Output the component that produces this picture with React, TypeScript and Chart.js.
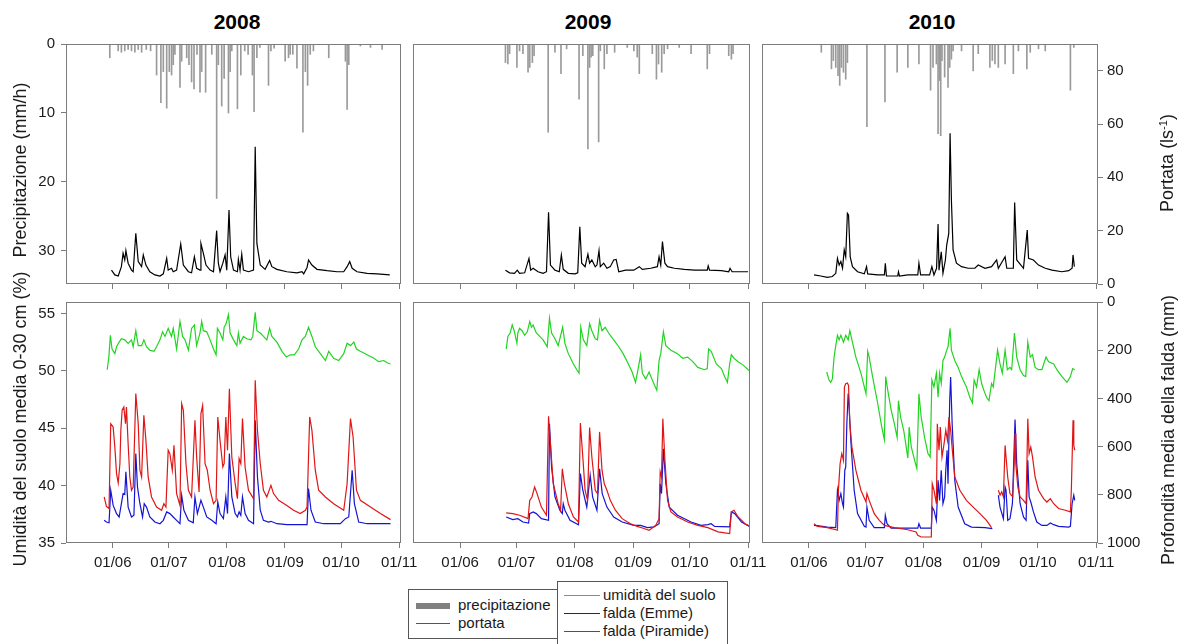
import React, { useEffect, useRef } from 'react';
import { Chart, registerables } from 'chart.js';

Chart.register(...registerables);

type Pt = [number, number | null];

// ---------- axes ----------
// x values are days counted from 1 June of each year
const X_MIN = -25;
const X_MAX = 154;
const TICK_DAYS = [0, 30, 61, 92, 122, 153];
const TICK_LABELS = ['01/06', '01/07', '01/08', '01/09', '01/10', '01/11'];
const PRECIP_TICKS = [0, 10, 20, 30];
const PRECIP_MAX = 34.8;
const PORTATA_TICKS = [0, 20, 40, 60, 80];
const PORTATA_MAX = 90;
const SOIL_TICKS = [35, 40, 45, 50, 55];
const SOIL_MIN = 35;
const SOIL_MAX = 56;
const DEPTH_TICKS = [0, 200, 400, 600, 800, 1000];
const DEPTH_MAX = 1000;
const YEARS = ['2008', '2009', '2010'];

// ---------- 2008 ----------
const PRECIP_2008: Pt[] = [
  [-1.6, 2.0], [2.9, 1.0], [4.6, 1.2], [6.4, 1.0], [8.2, 0.8], [10.0, 1.0], [11.8, 1.2], [13.6, 0.8], [15.4, 1.2],
  [17.9, 0.8], [20.2, 1.0], [23.4, 4.5], [25.7, 8.5], [27.0, 4.0], [28.8, 9.3], [30.2, 4.0], [31.4, 4.5], [32.3, 3.0],
  [33.2, 1.5], [35.9, 6.3], [36.8, 2.5], [39.5, 2.0], [40.7, 3.0], [42.1, 5.5], [43.4, 6.5], [45.0, 1.5], [46.6, 7.0],
  [47.5, 4.0], [49.6, 7.0], [52.9, 1.5], [55.5, 22.4], [56.4, 3.0], [58.2, 9.0], [59.5, 5.0], [61.8, 10.0], [62.7, 4.0],
  [63.6, 1.0], [66.6, 9.4], [68.4, 4.5], [70.5, 1.0], [72.3, 1.5], [74.6, 4.5], [75.5, 9.8], [77.0, 2.0], [78.6, 0.5],
  [83.2, 6.0], [84.5, 1.0], [86.2, 0.6], [92.1, 2.5], [93.9, 2.0], [94.8, 1.5], [96.2, 1.5], [98.4, 3.5], [101.6, 12.8],
  [102.9, 4.0], [104.1, 6.0], [105.5, 1.5], [107.2, 1.0], [115.4, 2.0], [124.3, 2.5], [125.2, 9.5], [126.1, 3.0],
  [132.3, 0.3], [137.7, 0.5], [143.9, 0.8],
];
const PORTATA_2008: Pt[] = [
  [-0.7, 5.2], [1.1, 3.4], [2.9, 3.0], [4.6, 6.5], [5.5, 11.5], [6.4, 9.0], [7.0, 12.5], [8.2, 7.8], [10.0, 5.2],
  [10.9, 4.6], [12.3, 19.0], [13.6, 8.4], [15.4, 6.5], [16.3, 10.9], [17.7, 7.1], [19.8, 4.6], [22.5, 3.4], [25.2, 3.0],
  [27.0, 3.8], [28.8, 9.6], [29.6, 5.2], [31.4, 5.9], [32.3, 4.6], [34.1, 5.2], [36.3, 15.0], [37.7, 7.1], [40.4, 4.6],
  [42.1, 4.2], [43.6, 10.2], [44.8, 5.9], [46.6, 5.2], [47.1, 15.2], [48.4, 11.5], [49.8, 7.1], [52.0, 5.2], [53.8, 4.6],
  [55.5, 20.0], [56.4, 7.8], [57.3, 4.6], [58.8, 7.8], [60.0, 10.9], [60.9, 5.2], [62.1, 27.7], [63.0, 10.2], [64.5, 5.2],
  [66.6, 4.6], [67.1, 9.2], [68.0, 5.2], [68.9, 11.2], [69.8, 5.2], [72.5, 4.6], [75.2, 5.2], [76.1, 51.5], [77.0, 15.2],
  [78.8, 7.1], [81.4, 5.5], [83.8, 8.8], [85.0, 6.5], [87.7, 5.5], [93.0, 4.6], [98.4, 4.2], [101.1, 4.6], [102.0, 3.8],
  [103.8, 6.2], [104.6, 9.0], [106.4, 7.1], [109.1, 5.5], [114.5, 5.0], [119.8, 4.6], [123.4, 4.6], [125.2, 6.5],
  [126.6, 8.4], [127.9, 5.9], [130.5, 4.6], [135.9, 4.0], [141.3, 3.8], [148.0, 3.4],
];
const SOIL_2008: Pt[] = [
  [-3.0, 50.1], [-2.1, 51.2], [-1.3, 53.1], [-0.4, 51.9], [1.1, 51.5], [2.0, 52.1], [3.4, 52.5], [4.6, 52.8], [6.4, 52.7],
  [8.2, 52.4], [10.0, 52.7], [10.9, 52.1], [12.3, 53.5], [13.6, 52.2], [15.4, 52.2], [16.6, 52.7], [18.0, 52.1],
  [19.8, 51.8], [22.0, 51.7], [23.4, 52.1], [25.2, 52.7], [26.6, 53.4], [27.9, 53.0], [29.6, 53.7], [31.4, 53.0],
  [32.3, 53.7], [34.1, 51.9], [35.9, 54.3], [37.3, 53.0], [38.6, 52.7], [40.4, 51.8], [42.1, 53.7], [43.6, 54.0],
  [44.8, 52.2], [46.6, 53.3], [47.5, 54.3], [48.4, 53.5], [50.2, 53.4], [52.0, 52.7], [53.8, 51.9], [55.2, 51.4],
  [55.9, 53.7], [57.3, 53.3], [58.8, 52.7], [59.5, 53.8], [60.5, 54.1], [61.8, 54.9], [62.7, 53.3], [64.5, 52.7],
  [66.3, 52.2], [67.1, 53.3], [68.0, 52.4], [69.8, 53.0], [71.6, 52.8], [73.8, 52.7], [74.8, 53.0], [76.1, 55.1],
  [77.0, 53.5], [78.8, 53.3], [80.5, 53.0], [82.3, 52.7], [83.8, 53.7], [85.0, 53.0], [87.7, 52.5], [90.4, 51.7],
  [92.7, 51.2], [94.8, 51.4], [97.0, 51.4], [99.3, 51.9], [101.1, 52.7], [102.9, 53.0], [104.6, 53.8], [106.4, 53.0],
  [108.2, 52.1], [110.9, 51.5], [113.6, 50.9], [115.4, 51.7], [118.0, 51.1], [120.7, 50.9], [123.4, 51.5], [125.2, 52.4],
  [127.0, 52.2], [128.8, 52.5], [130.2, 51.9], [132.3, 51.7], [135.9, 51.4], [139.5, 51.1], [142.1, 50.8], [144.8, 50.9],
  [146.6, 50.7], [148.4, 50.6],
];
const EMME_2008: Pt[] = [
  [-4.6, 906], [-3.4, 913], [-2.0, 916], [-1.1, 781], [0.2, 844], [2.0, 878], [3.4, 892], [4.6, 837], [5.5, 795],
  [6.4, 798], [7.0, 705], [8.2, 851], [10.0, 892], [11.3, 885], [12.3, 629], [13.2, 768], [14.5, 837], [15.9, 892],
  [16.8, 837], [18.0, 851], [19.8, 892], [22.5, 913], [25.2, 920], [27.0, 906], [28.8, 871], [30.5, 878], [32.3, 892],
  [34.1, 906], [35.9, 920], [36.8, 802], [38.0, 864], [40.4, 906], [43.0, 916], [43.9, 809], [45.2, 878], [47.1, 823],
  [48.4, 851], [50.2, 892], [52.9, 906], [55.2, 920], [56.1, 830], [57.3, 878], [59.1, 899], [60.4, 809], [61.3, 878],
  [62.3, 629], [63.6, 809], [65.4, 878], [66.6, 892], [67.5, 871], [68.4, 885], [69.3, 809], [70.7, 878], [72.5, 906],
  [75.2, 920], [76.1, 491], [77.3, 726], [78.8, 864], [80.5, 906], [83.2, 913], [84.5, 910], [87.7, 920], [93.0, 924],
  [103.8, 924], [104.6, 774], [105.9, 864], [108.2, 913], [112.7, 920], [121.6, 920], [124.3, 899], [126.1, 892],
  [127.9, 698], [129.1, 837], [131.4, 913], [135.9, 920], [148.4, 920],
];
const PIRAMIDE_2008: Pt[] = [
  [-4.6, 809], [-3.4, 848], [-2.0, 857], [-1.1, 505], [0.2, 519], [1.1, 602], [2.0, 712], [2.9, 751], [3.8, 671],
  [4.3, 532], [5.0, 449], [5.9, 436], [6.8, 505], [7.3, 436], [8.2, 588], [9.1, 726], [10.0, 781], [10.9, 768],
  [12.3, 380], [13.6, 505], [14.5, 698], [15.4, 726], [16.6, 470], [17.7, 574], [18.9, 726], [20.7, 809], [23.4, 851],
  [26.1, 864], [27.3, 837], [28.4, 851], [29.6, 615], [30.5, 629], [31.8, 698], [32.7, 595], [34.1, 795], [35.9, 844],
  [36.8, 422], [37.7, 449], [39.1, 671], [40.4, 781], [42.1, 809], [43.9, 491], [44.8, 643], [46.1, 788], [47.1, 463],
  [48.0, 429], [49.3, 671], [50.5, 698], [52.0, 781], [53.8, 837], [55.2, 823], [56.1, 477], [57.3, 574], [58.8, 685],
  [59.5, 671], [60.4, 477], [61.3, 615], [62.3, 360], [63.6, 643], [65.4, 754], [66.6, 816], [67.5, 650], [68.4, 671],
  [69.3, 484], [70.7, 685], [72.5, 781], [75.2, 816], [76.1, 325], [77.3, 532], [78.8, 671], [80.5, 781], [82.3, 809],
  [84.5, 761], [85.9, 795], [88.6, 823], [93.0, 844], [96.6, 864], [100.2, 878], [102.9, 864], [103.8, 851],
  [105.2, 477], [106.4, 532], [108.2, 698], [110.0, 781], [113.6, 809], [118.0, 837], [123.4, 864], [125.2, 754],
  [127.0, 484], [128.4, 560], [130.2, 781], [132.3, 823], [137.7, 851], [143.0, 878], [148.4, 903],
];

// ---------- 2009 ----------
const PRECIP_2009: Pt[] = [
  [24.1, 2.7], [25.4, 2.9], [26.3, 1.4], [30.2, 3.4], [31.6, 1.0], [33.4, 1.4], [36.1, 4.1], [37.0, 3.4], [38.4, 2.7],
  [39.3, 1.7], [46.8, 12.8], [50.4, 1.2], [53.6, 4.3], [56.6, 0.7], [63.2, 8.0], [65.2, 1.7], [67.9, 15.2], [68.8, 3.4],
  [69.6, 1.9], [70.5, 1.7], [73.6, 14.2], [74.5, 1.0], [76.6, 3.6], [78.0, 1.4], [82.1, 1.2], [88.8, 0.5], [92.3, 1.0],
  [94.1, 1.9], [95.2, 4.3], [102.1, 1.4], [104.3, 5.1], [105.4, 2.9], [107.1, 4.1], [108.4, 1.4], [110.2, 0.7],
  [116.4, 0.5], [122.7, 1.4], [131.3, 3.6], [132.5, 1.4], [142.7, 1.7], [144.1, 2.2], [145.0, 1.4],
];
const PORTATA_2009: Pt[] = [
  [24.1, 5.2], [26.3, 4.2], [28.9, 4.0], [30.4, 5.2], [31.6, 4.0], [34.3, 4.2], [36.6, 9.6], [37.5, 5.2], [38.8, 5.9],
  [41.4, 4.6], [44.1, 4.0], [45.9, 4.6], [47.0, 26.9], [48.0, 7.1], [50.4, 5.2], [52.7, 4.6], [53.8, 10.9], [54.8, 5.5],
  [57.5, 4.0], [61.1, 3.8], [62.5, 4.2], [63.6, 21.5], [64.6, 7.8], [66.4, 6.5], [67.9, 11.2], [68.8, 7.8], [70.0, 9.0],
  [71.8, 6.5], [72.7, 7.1], [73.8, 12.5], [74.5, 6.5], [76.3, 7.8], [78.0, 5.9], [79.8, 6.5], [81.6, 9.0], [82.9, 9.2],
  [84.3, 4.6], [87.9, 5.2], [92.3, 5.2], [95.2, 6.5], [96.8, 5.5], [101.3, 5.9], [104.8, 6.5], [105.7, 10.2],
  [106.6, 7.1], [107.5, 15.9], [108.8, 7.8], [110.2, 6.5], [113.8, 5.9], [119.1, 5.5], [124.5, 5.2], [131.3, 5.2],
  [131.8, 6.8], [132.5, 5.2], [138.8, 5.0], [142.7, 4.6], [143.4, 5.9], [144.5, 4.6], [153.0, 4.6],
];
const SOIL_2009: Pt[] = [
  [24.5, 51.9], [25.4, 53.0], [26.6, 53.3], [27.7, 54.0], [28.9, 53.4], [30.2, 52.4], [30.7, 53.3], [31.6, 53.7],
  [32.9, 53.5], [34.3, 53.1], [35.7, 53.4], [37.0, 54.3], [37.9, 53.8], [38.8, 54.0], [40.5, 53.3], [42.3, 53.0],
  [44.1, 52.7], [46.3, 52.1], [47.5, 54.6], [48.6, 53.3], [50.4, 52.8], [52.1, 52.2], [54.5, 53.8], [55.7, 52.4],
  [57.5, 51.5], [60.2, 50.6], [62.0, 50.1], [63.2, 49.8], [64.1, 53.8], [65.5, 52.7], [67.3, 52.2], [68.8, 54.1],
  [70.0, 53.5], [71.8, 52.8], [73.0, 52.7], [74.1, 54.4], [75.4, 53.5], [77.1, 53.8], [78.9, 53.3], [81.6, 52.7],
  [84.3, 52.1], [86.6, 51.5], [88.8, 50.8], [91.4, 49.9], [93.2, 49.0], [94.5, 50.1], [95.9, 51.4], [96.8, 49.8],
  [98.6, 49.3], [100.4, 49.9], [102.1, 49.2], [104.5, 48.3], [105.7, 50.9], [106.6, 51.5], [108.0, 53.4], [109.3, 52.2],
  [112.0, 51.8], [115.5, 51.5], [118.2, 51.1], [120.9, 51.2], [123.6, 50.8], [126.3, 50.3], [129.8, 50.1], [131.3, 50.2],
  [132.0, 51.9], [133.4, 51.7], [136.1, 50.6], [138.8, 50.2], [140.5, 49.5], [142.0, 49.0], [143.2, 50.6], [144.1, 51.4],
  [145.5, 51.1], [147.7, 50.8], [150.4, 50.5], [153.0, 50.1], [154.8, 49.9],
];
const EMME_2009: Pt[] = [
  [24.5, 892], [28.0, 903], [30.7, 899], [33.4, 913], [36.4, 917], [37.0, 878], [38.8, 871], [40.5, 878], [43.2, 899],
  [47.0, 906], [47.5, 505], [48.6, 685], [50.4, 809], [53.0, 864], [54.3, 878], [54.8, 837], [55.7, 864], [58.4, 906],
  [62.9, 924], [63.9, 712], [65.2, 781], [67.3, 851], [69.1, 719], [70.4, 809], [72.7, 864], [74.1, 692], [75.5, 795],
  [78.0, 851], [81.6, 892], [86.1, 913], [92.3, 927], [95.9, 927], [99.5, 936], [103.0, 933], [105.7, 920], [106.3, 754],
  [107.0, 795], [108.0, 609], [109.3, 754], [111.1, 851], [115.5, 885], [122.7, 913], [128.0, 927], [131.6, 924],
  [133.4, 920], [135.2, 931], [143.2, 933], [144.1, 871], [145.9, 878], [149.5, 913], [154.8, 936],
];
const PIRAMIDE_2009: Pt[] = [
  [24.5, 875], [28.0, 878], [31.6, 885], [36.1, 899], [37.0, 823], [38.2, 809], [39.6, 768], [40.9, 795], [43.2, 851],
  [45.9, 885], [47.0, 474], [48.0, 588], [49.5, 754], [52.1, 837], [53.4, 864], [54.3, 692], [55.4, 754], [57.5, 837],
  [60.2, 892], [62.9, 913], [63.9, 502], [65.2, 643], [66.4, 781], [67.7, 823], [68.8, 521], [70.0, 643], [71.8, 781],
  [73.0, 795], [74.1, 539], [75.4, 698], [76.6, 754], [78.0, 781], [79.8, 823], [82.5, 864], [86.1, 899], [90.5, 920],
  [94.1, 931], [97.7, 940], [100.4, 947], [103.9, 927], [105.7, 899], [106.3, 705], [107.0, 726], [107.7, 484],
  [108.8, 657], [110.2, 823], [112.0, 871], [115.5, 892], [120.9, 913], [126.3, 927], [131.6, 936], [137.0, 954],
  [143.2, 961], [144.1, 871], [145.5, 864], [147.7, 892], [151.3, 920], [154.8, 933],
];

// ---------- 2010 ----------
const PRECIP_2010: Pt[] = [
  [6.6, 1.2], [12.0, 3.6], [13.0, 2.4], [14.3, 3.4], [15.5, 4.6], [16.4, 6.0], [17.3, 3.4], [18.4, 4.1], [19.6, 5.1],
  [20.5, 2.7], [30.9, 12.0], [40.5, 8.4], [47.0, 4.1], [52.7, 3.4], [58.6, 2.9], [64.8, 6.7], [66.1, 3.4], [67.9, 2.9],
  [68.8, 13.0], [69.6, 5.3], [70.2, 13.3], [70.9, 2.4], [72.3, 4.8], [74.1, 6.3], [75.0, 3.4], [75.9, 2.2], [76.8, 1.0],
  [81.3, 1.0], [87.5, 3.9], [90.2, 1.4], [96.4, 3.4], [97.7, 2.4], [99.1, 2.9], [100.9, 3.4], [104.5, 2.9], [108.9, 4.3],
  [111.6, 1.0], [116.1, 3.6], [117.9, 1.2], [122.3, 0.7], [125.9, 1.0], [139.3, 6.7], [141.1, 0.5],
];
const PORTATA_2010: Pt[] = [
  [2.7, 3.4], [6.3, 3.0], [9.8, 2.5], [12.5, 2.8], [14.3, 4.0], [15.2, 9.6], [16.1, 7.1], [17.0, 8.4], [17.9, 5.9],
  [18.8, 12.8], [19.6, 10.2], [20.5, 26.5], [21.1, 25.9], [22.0, 10.2], [23.2, 6.5], [25.9, 4.6], [29.5, 3.8],
  [30.7, 6.5], [31.3, 3.8], [36.6, 3.4], [40.2, 3.4], [40.7, 7.8], [41.3, 3.0], [47.3, 3.0], [47.7, 4.6], [48.2, 3.0],
  [52.7, 3.4], [58.0, 3.4], [58.6, 7.8], [59.5, 3.4], [64.3, 3.4], [65.5, 6.5], [66.6, 3.4], [68.0, 5.9], [68.8, 22.5],
  [69.3, 5.2], [70.5, 12.1], [71.4, 4.0], [72.7, 9.0], [73.4, 14.6], [74.5, 19.0], [75.2, 56.5], [75.9, 31.5],
  [76.8, 12.8], [78.6, 7.8], [81.3, 6.5], [84.8, 5.9], [88.4, 5.9], [90.2, 7.1], [93.8, 5.9], [97.3, 6.5], [100.0, 9.0],
  [100.9, 5.9], [104.5, 10.2], [105.4, 5.9], [108.9, 5.9], [109.6, 30.6], [110.7, 9.0], [114.3, 5.9], [116.3, 20.2],
  [117.0, 9.6], [119.6, 9.0], [122.3, 7.1], [125.9, 5.9], [129.5, 5.2], [134.8, 4.6], [138.4, 5.0], [140.2, 5.9],
  [140.7, 10.9], [141.4, 6.5],
];
const SOIL_2010: Pt[] = [
  [9.5, 49.9], [10.7, 49.2], [11.6, 49.0], [12.5, 49.3], [13.4, 51.2], [14.3, 52.2], [15.2, 53.1], [16.1, 52.7],
  [17.0, 53.1], [18.4, 52.5], [19.6, 53.1], [20.9, 52.7], [21.8, 53.5], [22.9, 52.7], [25.0, 51.2], [27.7, 49.8],
  [30.4, 48.0], [31.3, 51.7], [32.1, 51.2], [33.9, 49.5], [36.6, 47.2], [38.8, 45.1], [40.2, 44.0], [40.9, 49.5],
  [42.0, 48.3], [43.8, 46.6], [45.5, 45.4], [47.0, 44.2], [47.7, 47.4], [48.8, 46.0], [50.5, 44.8], [51.8, 43.4],
  [52.7, 42.4], [53.4, 45.1], [54.5, 43.4], [56.3, 42.2], [57.5, 41.5], [58.6, 48.0], [59.8, 46.0], [61.6, 44.2],
  [63.4, 42.8], [64.6, 42.5], [65.5, 49.2], [66.6, 48.6], [67.9, 49.8], [68.8, 47.7], [69.6, 49.8], [70.5, 48.9],
  [71.4, 50.9], [72.3, 51.2], [73.2, 51.7], [74.1, 52.1], [75.2, 53.7], [75.9, 51.8], [77.7, 50.9], [79.5, 50.3],
  [81.3, 49.5], [83.9, 48.6], [85.7, 47.7], [87.1, 47.2], [88.0, 49.2], [89.3, 48.6], [90.7, 50.1], [92.0, 48.9],
  [93.2, 48.3], [94.6, 47.7], [95.9, 47.4], [97.3, 48.9], [98.2, 48.6], [100.5, 51.8], [101.8, 50.6], [103.0, 49.8],
  [104.5, 51.8], [105.7, 50.1], [107.1, 50.3], [108.0, 50.1], [109.5, 53.3], [110.7, 51.2], [112.5, 50.1], [114.3, 49.6],
  [115.5, 49.5], [116.6, 52.5], [117.9, 51.2], [119.1, 51.4], [120.5, 50.3], [122.3, 50.1], [124.1, 50.1], [126.3, 51.2],
  [127.7, 50.8], [130.4, 50.6], [132.1, 50.1], [134.8, 49.5], [137.5, 49.0], [139.3, 49.5], [140.5, 50.2], [141.6, 50.1],
];
const EMME_2010: Pt[] = [
  [2.7, 927], [4.5, 928], [9.8, 934], [14.3, 936], [15.2, 781], [16.1, 823], [17.0, 795], [17.9, 837], [18.4, 851],
  [19.1, 698], [19.6, 685], [20.2, 505], [20.9, 380], [21.4, 436], [22.3, 574], [24.1, 781], [25.9, 878], [29.5, 931],
  [30.4, 934], [30.9, 851], [32.1, 906], [34.8, 936], [40.2, 936], [40.7, 885], [41.6, 920], [43.8, 938], [58.0, 938],
  [58.6, 920], [59.5, 938], [65.2, 938], [65.7, 851], [66.6, 864], [67.9, 906], [68.8, 740], [69.6, 823], [70.5, 698],
  [71.4, 837], [72.3, 809], [72.9, 698], [73.6, 615], [74.1, 754], [75.0, 408], [75.5, 311], [76.3, 505], [77.7, 740],
  [79.5, 851], [83.0, 920], [86.6, 934], [93.8, 936], [97.7, 940], [99.3, null],
  [100.9, 802], [101.8, 851], [103.6, 899], [104.5, 768], [105.0, 781], [105.9, 906], [107.1, 899], [108.4, 837],
  [109.8, 488], [110.7, 671], [112.5, 837], [114.3, 892], [115.7, 906], [116.6, 657], [117.3, 809], [118.2, 830],
  [119.6, 871], [121.4, 913], [124.1, 927], [126.8, 927], [128.6, 917], [130.4, 924], [133.0, 931], [138.4, 934],
  [139.3, 931], [140.2, 837], [141.1, 802], [141.6, 823],
];
const PIRAMIDE_2010: Pt[] = [
  [2.7, 920], [4.5, 931], [9.8, 936], [14.3, 945], [15.2, 947], [15.7, 781], [16.6, 671], [17.5, 629], [18.4, 657],
  [18.9, 353], [19.6, 339], [20.5, 336], [21.1, 346], [21.8, 505], [22.9, 602], [25.0, 698], [27.7, 781], [30.4, 830],
  [30.9, 795], [32.1, 823], [34.8, 878], [37.5, 906], [40.2, 927], [45.5, 936], [52.7, 945], [57.1, 954], [58.0, 968],
  [59.8, 975], [65.2, 975], [65.7, 754], [66.6, 781], [67.9, 837], [68.4, 505], [69.3, 615], [70.0, 519], [70.9, 643],
  [72.0, 588], [72.9, 532], [73.8, 574], [74.6, 477], [75.5, 532], [76.4, 615], [77.7, 726], [80.4, 781], [83.9, 823],
  [87.5, 851], [91.1, 878], [94.6, 906], [97.3, 936], [99.3, null],
  [100.9, 781], [101.8, 802], [102.7, 788], [103.6, 809], [104.5, 595], [105.9, 726], [107.1, 795], [108.6, 809],
  [109.5, 643], [109.8, 546], [110.2, 671], [111.3, 768], [112.5, 809], [114.3, 823], [115.7, 837], [116.6, 484],
  [117.3, 629], [118.2, 602], [119.1, 643], [120.5, 726], [122.3, 781], [125.0, 816], [126.8, 830], [128.6, 816],
  [130.4, 837], [133.0, 857], [136.6, 864], [139.3, 871], [139.8, 781], [140.7, 491], [141.1, 595], [141.6, 615],
];

const PRECIP = [PRECIP_2008, PRECIP_2009, PRECIP_2010];
const PORTATA = [PORTATA_2008, PORTATA_2009, PORTATA_2010];
const SOIL = [SOIL_2008, SOIL_2009, SOIL_2010];
const EMME = [EMME_2008, EMME_2009, EMME_2010];
const PIRAMIDE = [PIRAMIDE_2008, PIRAMIDE_2009, PIRAMIDE_2010];

// ---------- layout / style ----------
const FONT = '"Liberation Sans", Arial, Helvetica, sans-serif';
const TXT = '#1a1a1a';
const FRAME = '#7c7c7c';
const C_PRECIP = '#9a9a9a';
const C_PORTATA = '#000000';
const C_SOIL = '#22d422';
const C_EMME = '#1414d2';
const C_PIRAMIDE = '#e01616';

const PANEL_LEFT = [66, 413, 762];
const PANEL_W = [335, 337, 336];
const TOP_Y = 44;
const TOP_H = 240;
const BOT_Y = 302;
const BOT_H = 241;
const PAD_L = 60;
const PAD_R = 60;
const PAD_T = 16;
const PAD_B = 32;

const toXY = (arr: Pt[]) => arr.map(([x, y]) => ({ x, y }));

const framePlugin = {
  id: 'frame',
  afterDraw(chart: any) {
    const { ctx, chartArea } = chart;
    const l = Math.round(chartArea.left) + 0.5;
    const t = Math.round(chartArea.top) + 0.5;
    const r = Math.round(chartArea.right) - 0.5;
    const b = Math.round(chartArea.bottom) - 0.5;
    ctx.save();
    ctx.strokeStyle = FRAME;
    ctx.lineWidth = 1;
    ctx.strokeRect(l, t, r - l, b - t);
    ctx.restore();
  },
};

function xScale(showLabels: boolean) {
  return {
    type: 'linear',
    position: 'bottom',
    min: X_MIN,
    max: X_MAX,
    offset: false,
    afterBuildTicks: (s: any) => {
      s.ticks = TICK_DAYS.map((v) => ({ value: v }));
    },
    afterFit: (s: any) => {
      s.height = PAD_B;
    },
    ticks: {
      display: showLabels,
      autoSkip: false,
      maxRotation: 0,
      minRotation: 0,
      padding: 6,
      color: TXT,
      font: { family: FONT, size: 15 },
      callback: (_v: any, i: number) => TICK_LABELS[i],
    },
    grid: { display: true, drawOnChartArea: false, drawTicks: true, tickLength: 5, color: FRAME, offset: false },
    border: { display: false },
  };
}

function yScale(
  position: 'left' | 'right',
  min: number,
  max: number,
  reverse: boolean,
  tickValues: number[],
  show: boolean,
) {
  return {
    type: 'linear',
    position,
    min,
    max,
    reverse,
    afterBuildTicks: (s: any) => {
      s.ticks = tickValues.map((v) => ({ value: v }));
    },
    afterFit: (s: any) => {
      s.width = position === 'left' ? PAD_L : PAD_R;
    },
    ticks: {
      display: show,
      padding: position === 'left' ? 6 : 4,
      color: TXT,
      font: { family: FONT, size: 15 },
      callback: (v: any) => String(v),
    },
    grid: { display: true, drawOnChartArea: false, drawTicks: show, tickLength: 5, color: FRAME },
    border: { display: false },
  };
}

function baseOptions(scales: any) {
  return {
    responsive: false,
    maintainAspectRatio: false,
    animation: false,
    devicePixelRatio: 1,
    events: [],
    layout: { padding: { top: PAD_T, left: 0, right: 0, bottom: 0 } },
    plugins: { legend: { display: false }, tooltip: { enabled: false }, title: { display: false } },
    elements: { point: { radius: 0 }, line: { tension: 0 } },
    scales,
  };
}

function buildTop(canvas: HTMLCanvasElement, i: number) {
  return new Chart(canvas, {
    type: 'line',
    data: {
      datasets: [
        {
          type: 'line',
          label: 'portata',
          data: toXY(PORTATA[i]),
          xAxisID: 'x',
          yAxisID: 'yQ',
          borderColor: C_PORTATA,
          borderWidth: 1.2,
          pointRadius: 0,
          fill: false,
          order: 0,
        },
        {
          type: 'bar',
          label: 'precipitazione',
          data: toXY(PRECIP[i]),
          xAxisID: 'x',
          yAxisID: 'yP',
          backgroundColor: C_PRECIP,
          borderWidth: 0,
          barThickness: 1,
          grouped: false,
          order: 1,
        },
      ],
    } as any,
    options: baseOptions({
      x: xScale(false),
      yP: yScale('left', 0, PRECIP_MAX, true, PRECIP_TICKS, i === 0),
      yQ: yScale('right', 0, PORTATA_MAX, false, PORTATA_TICKS, i === 2),
    }) as any,
    plugins: [framePlugin],
  });
}

function buildBottom(canvas: HTMLCanvasElement, i: number) {
  const line = (label: string, data: Pt[], color: string, axis: string, order: number) => ({
    type: 'line',
    label,
    data: toXY(data),
    xAxisID: 'x',
    yAxisID: axis,
    borderColor: color,
    borderWidth: 1.2,
    pointRadius: 0,
    fill: false,
    spanGaps: false,
    order,
  });
  return new Chart(canvas, {
    type: 'line',
    data: {
      datasets: [
        line('umidità del suolo', SOIL[i], C_SOIL, 'yS', 2),
        line('falda (Emme)', EMME[i], C_EMME, 'yD', 1),
        line('falda (Piramide)', PIRAMIDE[i], C_PIRAMIDE, 'yD', 0),
      ],
    } as any,
    options: baseOptions({
      x: xScale(true),
      yS: yScale('left', SOIL_MIN, SOIL_MAX, false, SOIL_TICKS, i === 0),
      yD: yScale('right', 0, DEPTH_MAX, true, DEPTH_TICKS, i === 2),
    }) as any,
    plugins: [framePlugin],
  });
}

function Panel(props: { i: number; row: 'top' | 'bottom' }) {
  const { i, row } = props;
  const ref = useRef<HTMLCanvasElement>(null);
  const w = PANEL_W[i] + PAD_L + PAD_R;
  const h = (row === 'top' ? TOP_H : BOT_H) + PAD_T + PAD_B;
  const left = PANEL_LEFT[i] - PAD_L;
  const top = (row === 'top' ? TOP_Y : BOT_Y) - PAD_T;
  useEffect(() => {
    if (!ref.current) return;
    const chart = row === 'top' ? buildTop(ref.current, i) : buildBottom(ref.current, i);
    return () => chart.destroy();
  }, [i, row]);
  return (
    <canvas
      ref={ref}
      width={w}
      height={h}
      style={{ position: 'absolute', left, top, width: w, height: h }}
    />
  );
}

function VLabel(props: { cx: number; cy: number; children: React.ReactNode }) {
  const W = 420;
  const H = 24;
  return (
    <div
      style={{
        position: 'absolute',
        left: props.cx - W / 2,
        top: props.cy - H / 2,
        width: W,
        height: H,
        lineHeight: H + 'px',
        textAlign: 'center',
        transform: 'rotate(-90deg)',
        fontFamily: FONT,
        fontSize: 18,
        color: TXT,
        whiteSpace: 'nowrap',
      }}
    >
      {props.children}
    </div>
  );
}

const legendText: React.CSSProperties = {
  position: 'absolute',
  fontFamily: FONT,
  fontSize: 15,
  color: TXT,
  lineHeight: '18px',
  height: 18,
  whiteSpace: 'nowrap',
};

export default function App() {
  const titleX = [237, 588, 932];
  return (
    <div
      style={{
        position: 'absolute',
        left: 0,
        top: 0,
        width: 1187,
        height: 644,
        overflow: 'hidden',
        background: '#ffffff',
      }}
    >
      {YEARS.map((y, i) => (
        <div
          key={y}
          style={{
            position: 'absolute',
            left: titleX[i] - 50,
            top: 10,
            width: 100,
            textAlign: 'center',
            fontFamily: FONT,
            fontWeight: 'bold',
            fontSize: 21,
            lineHeight: '24px',
            color: '#000',
          }}
        >
          {y}
        </div>
      ))}

      {[0, 1, 2].map((i) => (
        <Panel key={'t' + i} i={i} row="top" />
      ))}
      {[0, 1, 2].map((i) => (
        <Panel key={'b' + i} i={i} row="bottom" />
      ))}

      <VLabel cx={20} cy={170}>Precipitazione (mm/h)</VLabel>
      <VLabel cx={20} cy={419}>Umidità del suolo media 0-30 cm (%)</VLabel>
      <VLabel cx={1167} cy={163}>
        Portata (ls<sup style={{ fontSize: 11, verticalAlign: '6px', lineHeight: 0 }}>-1</sup>)
      </VLabel>
      <VLabel cx={1168} cy={430}>Profondità media della falda (mm)</VLabel>

      {/* legend 1 */}
      <div
        style={{
          position: 'absolute',
          left: 408,
          top: 589,
          width: 152,
          height: 50,
          border: '1px solid #555',
          boxSizing: 'border-box',
          background: '#fff',
        }}
      >
        <div style={{ position: 'absolute', left: 7, top: 13, width: 34, height: 6, background: '#808080' }} />
        <div style={{ ...legendText, left: 49, top: 6 }}>precipitazione</div>
        <div style={{ position: 'absolute', left: 7, top: 33, width: 34, height: 1, background: '#555' }} />
        <div style={{ ...legendText, left: 49, top: 24 }}>portata</div>
      </div>
      {/* legend 2 */}
      <div
        style={{
          position: 'absolute',
          left: 557,
          top: 581,
          width: 171,
          height: 70,
          border: '1px solid #555',
          boxSizing: 'border-box',
          background: '#fff',
        }}
      >
        <div style={{ position: 'absolute', left: 6, top: 13, width: 36, height: 1, background: C_SOIL }} />
        <div style={{ ...legendText, left: 45, top: 4 }}>umidità del suolo</div>
        <div style={{ position: 'absolute', left: 6, top: 31, width: 36, height: 1, background: C_EMME }} />
        <div style={{ ...legendText, left: 45, top: 22 }}>falda (Emme)</div>
        <div style={{ position: 'absolute', left: 6, top: 49, width: 36, height: 1, background: C_PIRAMIDE }} />
        <div style={{ ...legendText, left: 45, top: 40 }}>falda (Piramide)</div>
      </div>
    </div>
  );
}
